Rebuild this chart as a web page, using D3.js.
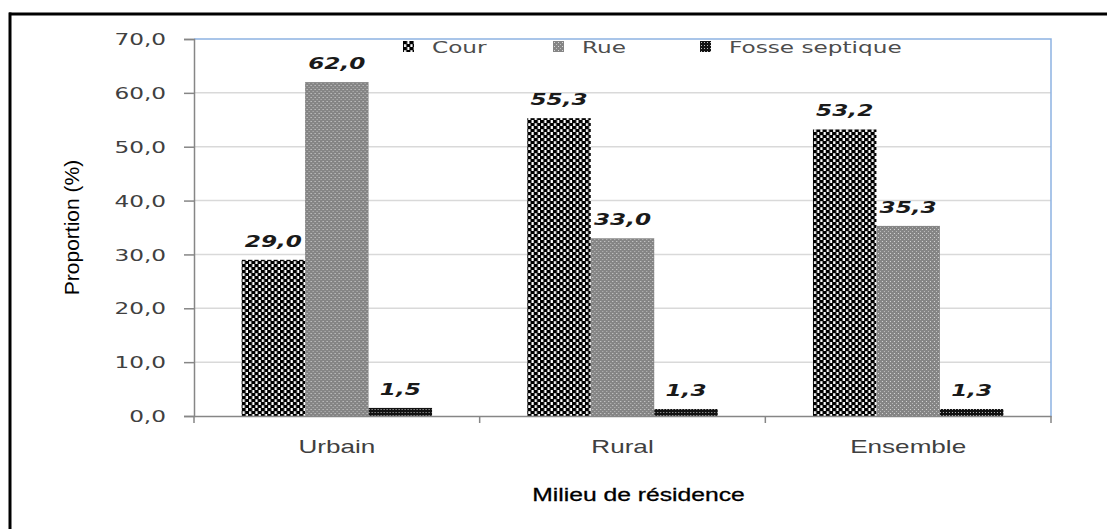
<!DOCTYPE html>
<html>
<head>
<meta charset="utf-8">
<script src="https://cdn.jsdelivr.net/npm/d3@7"></script>
<style>
    body { margin: 0; background: #fff; }
    svg { display: block; }
</style>
</head>
<body>
<svg id="chart" width="1107" height="529"></svg>
<script>
(function () {
    'use strict';

    // data
    const categories = ['Urbain', 'Rural', 'Ensemble'];
    const seriesNames = ['Cour', 'Rue', 'Fosse septique'];
    const cour = [29.0, 55.3, 53.2];
    const rue = [62.0, 33.0, 35.3];
    const fosse = [1.5, 1.3, 1.3];
    const yTicks = [0, 10, 20, 30, 40, 50, 60, 70];

    const seriesValues = [cour, rue, fosse];
    const patternIds = ['pat-cour', 'pat-rue', 'pat-fosse'];

    let fr = d3.formatLocale({ decimal: ',', thousands: ' ', grouping: [3], currency: ['', ''] });
    let fmt = fr.format('.1f');

    let width = 1107, height = 529;
    let plot = { left: 194, right: 1051, top: 39, bottom: 416 };
    let stretch = 1.45; // the picture is a bit wide: text is stretched sideways

    let svg = d3.select('#chart');

    // patterns
    let defs = svg.append('defs');
    let pc = defs.append('pattern').attr('id', 'pat-cour')
        .attr('patternUnits', 'userSpaceOnUse').attr('width', 6.4).attr('height', 6);
    pc.append('rect').attr('width', 6.4).attr('height', 6).attr('fill', '#fff');
    pc.append('rect').attr('x', 0).attr('y', 0).attr('width', 4.2).attr('height', 3.2).attr('fill', '#000');
    pc.append('rect').attr('x', 3.2).attr('y', 3).attr('width', 4.2).attr('height', 3.2).attr('fill', '#000');
    pc.append('rect').attr('x', -3.2).attr('y', 3).attr('width', 4.2).attr('height', 3.2).attr('fill', '#000');

    let pr = defs.append('pattern').attr('id', 'pat-rue')
        .attr('patternUnits', 'userSpaceOnUse').attr('width', 4).attr('height', 4);
    pr.append('rect').attr('width', 4).attr('height', 4).attr('fill', '#858585');
    pr.append('rect').attr('x', 1).attr('y', 1).attr('width', 1).attr('height', 1).attr('fill', '#d8d8d8');
    pr.append('rect').attr('x', 3).attr('y', 3).attr('width', 1).attr('height', 1).attr('fill', '#bcbcbc');

    let pf = defs.append('pattern').attr('id', 'pat-fosse')
        .attr('patternUnits', 'userSpaceOnUse').attr('width', 3).attr('height', 3);
    pf.append('rect').attr('width', 3).attr('height', 3).attr('fill', '#111');
    pf.append('rect').attr('x', 1).attr('y', 1).attr('width', 1).attr('height', 1).attr('fill', '#bbb');

    // outer frame
    svg.append('rect').attr('width', width).attr('height', height).attr('fill', '#fff');
    svg.append('line').attr('x1', 9).attr('x2', width).attr('y1', 14).attr('y2', 14)
        .attr('stroke', '#000').attr('stroke-width', 3);
    svg.append('line').attr('x1', 10).attr('x2', 10).attr('y1', 12.5).attr('y2', height)
        .attr('stroke', '#000').attr('stroke-width', 3);

    let x0 = d3.scaleBand()
        .domain(categories)
        .range([plot.left, plot.right])
        .paddingInner(1 / 3)
        .paddingOuter(1 / 6);
    let x1 = d3.scaleBand()
        .domain(seriesNames)
        .range([0, x0.bandwidth()]);
    let y = d3.scaleLinear()
        .domain([0, 70])
        .range([plot.bottom, plot.top]);

    // gridlines
    svg.append('g')
        .selectAll('line')
        .data(yTicks.slice(1, -1))
        .enter()
        .append('line')
        .attr('x1', plot.left).attr('x2', plot.right)
        .attr('y1', function (d) { return y(d); })
        .attr('y2', function (d) { return y(d); })
        .attr('stroke', '#d9d9d9').attr('stroke-width', 1.5);

    // plot area border (top and right are blue)
    svg.append('path')
        .attr('d', 'M' + plot.left + ',' + y(70) + 'H' + plot.right + 'V' + plot.bottom)
        .attr('fill', 'none').attr('stroke', '#8db3e2').attr('stroke-width', 1.5);

    // bars
    let rows = categories.map(function (c, i) {
        return {
            cat: c,
            vals: seriesNames.map(function (s, j) {
                return { cat: c, series: s, idx: j, value: seriesValues[j][i] };
            })
        };
    });

    let groups = svg.append('g')
        .selectAll('g')
        .data(rows)
        .enter()
        .append('g')
        .attr('transform', function (d) { return 'translate(' + x0(d.cat) + ',0)'; });

    groups.selectAll('rect')
        .data(function (d) { return d.vals; })
        .enter()
        .append('rect')
        .attr('x', function (d) { return x1(d.series); })
        .attr('y', function (d) { return y(d.value); })
        .attr('width', x1.bandwidth())
        .attr('height', function (d) { return y(0) - y(d.value); })
        .attr('fill', function (d) { return 'url(#' + patternIds[d.idx] + ')'; });

    groups.selectAll('text')
        .data(function (d) { return d.vals; })
        .enter()
        .append('text')
        .attr('transform', function (d) {
            return 'translate(' + (x1(d.series) + x1.bandwidth() / 2) + ',' + (y(d.value) - 13) + ') scale(' + stretch + ',1)';
        })
        .attr('text-anchor', 'middle')
        .style('font-family', 'DejaVu Sans')
        .style('font-size', '16px')
        .style('font-weight', 'bold')
        .style('font-style', 'italic')
        .style('fill', '#1a1a1a')
        .text(function (d) { return fmt(d.value); });

    // y axis
    let yAxis = d3.axisLeft(y)
        .tickValues(yTicks)
        .tickSize(10)
        .tickPadding(0)
        .tickFormat(fmt);
    let gy = svg.append('g')
        .attr('transform', 'translate(' + plot.left + ',0)')
        .call(yAxis);
    gy.select('.domain').attr('stroke', '#868686').attr('stroke-width', 1.5);
    gy.selectAll('.tick line').attr('stroke', '#868686').attr('stroke-width', 1.5);
    gy.selectAll('.tick text')
        .attr('x', null)
        .attr('dy', '0.35em')
        .attr('transform', 'translate(-28,0) scale(' + stretch + ',1)')
        .style('font-family', 'DejaVu Sans')
        .style('font-size', '16px')
        .style('fill', '#404040');

    // x axis
    let xAxis = d3.axisBottom(x0).tickSize(0).tickSizeOuter(0).tickPadding(0);
    let gx = svg.append('g')
        .attr('transform', 'translate(0,' + plot.bottom + ')')
        .call(xAxis);
    gx.select('.domain').attr('stroke', '#868686').attr('stroke-width', 1.5);
    gx.selectAll('.tick text')
        .attr('y', null)
        .attr('dy', null)
        .attr('transform', 'translate(0,37) scale(1.45,1)')
        .style('font-family', 'Liberation Sans')
        .style('font-size', '18px')
        .style('fill', '#404040');
    // category boundary ticks
    let bounds = [plot.left].concat(categories.map(function (c) {
        return x0(c) + x0.bandwidth() + x0.step() * x0.paddingOuter();
    }));
    gx.selectAll('.bound')
        .data(bounds)
        .enter()
        .append('line')
        .attr('class', 'bound')
        .attr('x1', function (d) { return d; })
        .attr('x2', function (d) { return d; })
        .attr('y1', 0).attr('y2', 7)
        .attr('stroke', '#868686').attr('stroke-width', 1.5);

    // axis titles
    svg.append('text')
        .attr('transform', 'translate(79,' + ((plot.top + plot.bottom) / 2) + ') rotate(-90)')
        .attr('text-anchor', 'middle')
        .style('font-family', 'Liberation Sans Narrow, Liberation Sans')
        .style('font-size', '21px')
        .style('fill', '#000')
        .text('Proportion (%)');

    svg.append('text')
        .attr('transform', 'translate(' + ((plot.left + plot.right) / 2 + 16) + ',501) scale(1.3,1)')
        .attr('text-anchor', 'middle')
        .style('font-family', 'Liberation Sans')
        .style('font-size', '19px')
        .style('fill', '#000')
        .style('stroke', '#000')
        .style('stroke-width', 0.3)
        .text('Milieu de résidence');

    // legend
    let legendX = [403, 553, 700];
    let legend = svg.append('g')
        .selectAll('g')
        .data(seriesNames)
        .enter()
        .append('g')
        .attr('transform', function (d, i) { return 'translate(' + legendX[i] + ',41)'; });
    legend.append('rect')
        .attr('width', 11).attr('height', 11)
        .attr('fill', function (d, i) { return 'url(#' + patternIds[i] + ')'; });
    legend.append('text')
        .attr('transform', 'translate(29,12) scale(' + stretch + ',1)')
        .style('font-family', 'DejaVu Sans')
        .style('font-size', '16px')
        .style('fill', '#4d4d4d')
        .text(function (d) { return d; });
})();
</script>
</body>
</html>
